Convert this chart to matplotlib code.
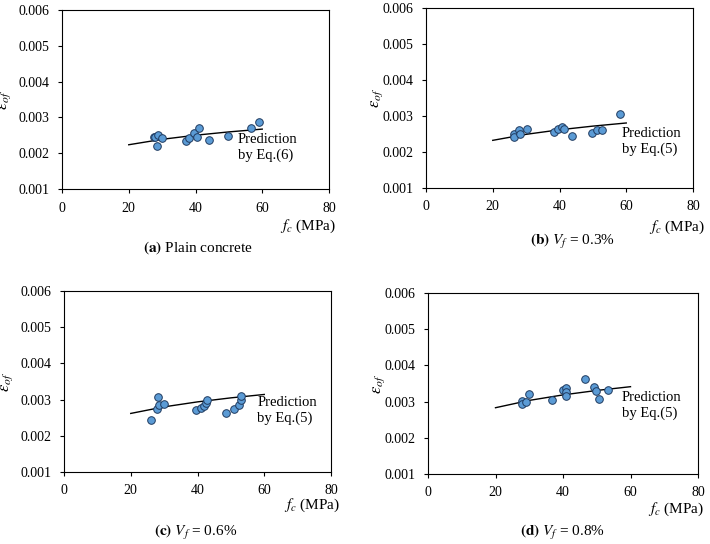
import numpy as np
import matplotlib
matplotlib.use("Agg")
from matplotlib import pyplot as plt

plt.rcParams['font.family'] = ['Liberation Serif', 'DejaVu Serif']
plt.rcParams['mathtext.fontset'] = 'stix'
plt.rcParams['font.size'] = 10

# measured points (fc in MPa, peak strain)
fc_a = [27.6, 27.9, 28.9, 30.0, 28.4, 37.2, 38.2, 39.7, 40.3, 41.0, 43.9, 49.6, 56.6, 59.1]
eps_a = [0.00244, 0.00245, 0.00252, 0.00242, 0.00221, 0.00233, 0.00242, 0.00256, 0.00244,
         0.00269, 0.00236, 0.00249, 0.00269, 0.00286]

fc_b = [26.4, 26.5, 27.9, 28.3, 30.2, 38.5, 39.6, 40.8, 41.2, 43.7, 49.8, 51.3, 52.6, 58.0]
eps_b = [0.00250, 0.00243, 0.00262, 0.00251, 0.00264, 0.00256, 0.00264, 0.00269, 0.00265,
         0.00245, 0.00254, 0.00260, 0.00262, 0.00306]

fc_c = [26.2, 28.0, 28.1, 28.6, 30.1, 39.6, 41.0, 41.8, 42.5, 42.8, 48.6, 50.9, 52.3, 52.9, 53.0]
eps_c = [0.00245, 0.00274, 0.00307, 0.00285, 0.00287, 0.00270, 0.00278, 0.00282, 0.00291,
         0.00298, 0.00264, 0.00274, 0.00286, 0.00298, 0.00311]

fc_d = [27.8, 27.9, 28.9, 29.8, 36.6, 39.9, 41.0, 41.0, 41.0, 46.5, 49.3, 49.8, 50.7, 53.2]
eps_d = [0.00303, 0.00292, 0.00299, 0.00320, 0.00304, 0.00333, 0.00338, 0.00327, 0.00316,
         0.00362, 0.00341, 0.00330, 0.00306, 0.00333]

# prediction curves
fc_pred = [20, 30, 40, 50, 60]
pred_a = [0.002236, 0.002388, 0.002502, 0.002595, 0.002673]
pred_b = [0.002324, 0.002491, 0.002617, 0.002719, 0.002806]
pred_c = [0.002618, 0.002800, 0.002937, 0.003048, 0.003142]
pred_d = [0.002831, 0.003033, 0.003185, 0.003308, 0.003412]

panels = [
    # fc, eps, pred, eq label, caption, axes rect(px), text pos, xlabel(px), caption(px), ylabel pad
    (fc_a, eps_a, pred_a, 'Prediction\nby Eq.(6)', r'$\mathbf{(a)}$ Plain concrete',
     (62, 10, 329, 189), (52.6, 0.00216), (336, 226), (198, 248), 4),
    (fc_b, eps_b, pred_b, 'Prediction\nby Eq.(5)', r'$\mathbf{(b)}$ $V_f$ = 0.3%',
     (426, 8, 693, 188), (58.6, 0.00230), (705, 227), (572, 242), -2),
    (fc_c, eps_c, pred_c, 'Prediction\nby Eq.(5)', r'$\mathbf{(c)}$ $V_f$ = 0.6%',
     (64, 291, 331, 472), (57.9, 0.00269), (340, 505), (196, 532), 4),
    (fc_d, eps_d, pred_d, 'Prediction\nby Eq.(5)', r'$\mathbf{(d)}$ $V_f$ = 0.8%',
     (428, 293, 698, 474), (57.4, 0.00290), (704, 509), (562, 533), -2),
]

W, H = 710, 544
fig = plt.figure(figsize=(W / 100, H / 100), dpi=100)

for fc, eps, pred, eq, cap, (l, t, r, b), (tx, ty), (xlx, xly), (cx, cy), ypad in panels:
    ax = fig.add_axes([l / W, 1 - b / H, (r - l) / W, (b - t) / H])
    ax.plot(fc_pred, pred, color='black', lw=1.0)
    ax.scatter(fc, eps, s=30, facecolor='#5b9bd5', edgecolor='#1f3a5f', lw=0.7, zorder=3)
    ax.set_xlim(0, 80)
    ax.set_ylim(0.001, 0.006)
    ax.set_xticks([0, 20, 40, 60, 80])
    ax.set_yticks([0.001, 0.002, 0.003, 0.004, 0.005, 0.006])
    ax.set_yticklabels(['%.3f' % v for v in ax.get_yticks()])
    ax.tick_params(direction='out', length=3, width=0.8, pad=6, labelsize=10)
    for s in ax.spines.values():
        s.set_linewidth(0.8)
    ax.set_ylabel(r'$\varepsilon_{of}$', fontsize=12, labelpad=ypad)
    ax.text(tx, ty, eq, ha='left', va='center', fontsize=10.5, linespacing=1.25)
    fig.text(xlx / W, 1 - xly / H, r'$f_c$ (MPa)', ha='right', va='center', fontsize=11)
    fig.text(cx / W, 1 - cy / H, cap, ha='center', va='center', fontsize=11)

fig.savefig('out.png', dpi=100)
